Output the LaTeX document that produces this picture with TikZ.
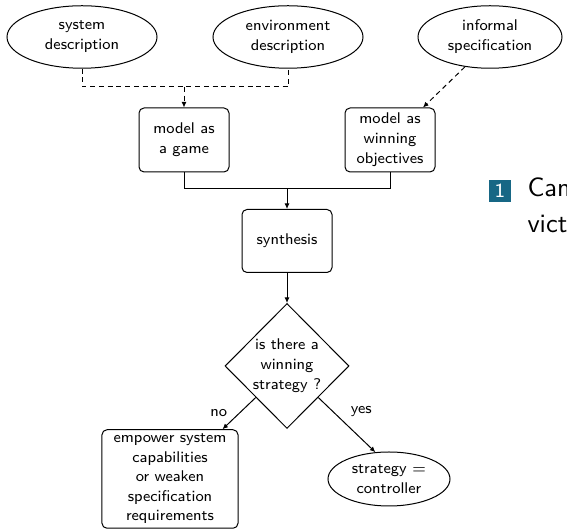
\documentclass[tikz,border=0pt]{standalone}
\usepackage{tikz}
\usetikzlibrary{positioning,arrows.meta,shapes.geometric}
\definecolor{itemblue}{RGB}{23,103,133}

\begin{document}
\begin{tikzpicture}[x=0.4pt,y=-0.4pt,
  font=\sffamily\fontsize{6.2}{8}\selectfont,
  source/.style={draw,ellipse,minimum width=60pt,minimum height=25pt,inner sep=0pt,align=center},
  stepbox/.style={draw,rounded corners=2pt,minimum width=36pt,minimum height=25.6pt,inner sep=0.5pt,align=center},
  query/.style={draw,diamond,minimum width=49.6pt,minimum height=50pt,inner sep=0pt,align=center},
  arr/.style={-{Latex[length=2.2pt,width=2pt]}},
  dsh/.style={dash pattern=on 2pt off 1.5pt}]
\useasboundingbox (0,0) rectangle (567,531);
% inputs
\node[source] (sys) at (82,37) {system\\description};
\node[source] (env) at (288,37) {environment\\description};
\node[source,minimum width=57.6pt] (spec) at (490,37) {informal\\specification};
% modelling
\node[stepbox] (game) at (184,140) {model as\\a game};
\node[stepbox] (obj) at (390,140) {model as\\winning\\objectives};
\node[stepbox,minimum height=25.2pt] (synth) at (287,241) {synthesis};
\node[query] (test) at (287,366) {is there a\\winning\\strategy ?};
% outcomes
\node[stepbox,minimum width=54.4pt,minimum height=39.4pt,font=\sffamily\fontsize{6.2}{7.8}\selectfont] (emp) at (170,479) {empower system\\capabilities\\or weaken\\specification\\requirements};
\node[source,minimum width=48.8pt,minimum height=21.6pt] (ctrl) at (389,479) {strategy $=$\\controller};
\coordinate (join) at (184,87);
\coordinate (merge) at (287,189);
\draw[dsh] (sys.south) |- (join) -| (env.south);
\draw[dsh,arr] (join) -- (game.north);
\draw[dsh,arr] (spec.230) -- ([xshift=-5pt]obj.north east);
\draw (game.south) |- (merge);
\draw (obj.south) |- (merge);
\draw[arr] (merge) -- (synth.north);
\draw[arr] (synth.south) -- (test.north);
\draw[arr] (test.south west) -- node[midway,xshift=-8.2pt]{no} ([xshift=-6.4pt]emp.north east);
\draw[arr] (test.south east) -- node[midway,xshift=5.8pt,yshift=5.2pt]{yes} (ctrl.117);
% list item from the slide
\node[fill=itemblue,text=white,minimum size=8.8pt,inner sep=0pt,font=\sffamily\fontsize{8}{9}\selectfont] (num) at (500,191) {1};
\node[anchor=base west,inner sep=0pt,font=\sffamily\fontsize{10.6}{14.4}\selectfont] (itemA) at (527,197) {Can};
\node[anchor=base west,inner sep=0pt,font=\sffamily\fontsize{10.6}{14.4}\selectfont] (itemB) at (527,233) {victory};
\end{tikzpicture}
\end{document}
